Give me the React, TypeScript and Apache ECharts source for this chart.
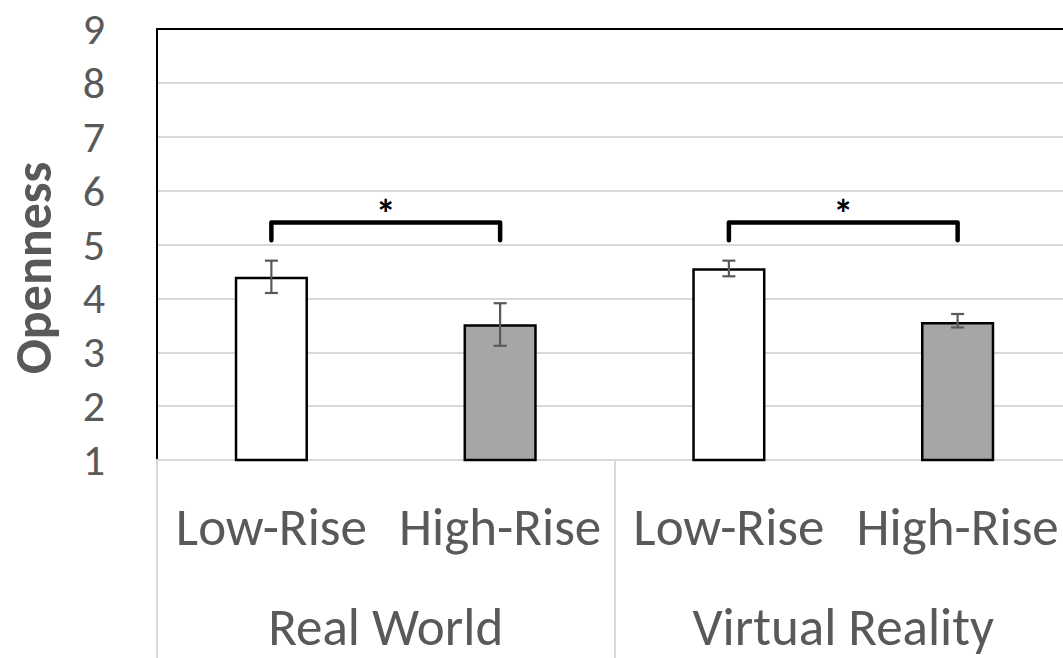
import React, { useEffect, useRef } from "react";
import * as echarts from "echarts";

// Openness ratings by building height, in the real world and in VR
const conditions = ["Low-Rise", "High-Rise", "Low-Rise", "High-Rise"];
const environments = ["Real World", "Virtual Reality"];
const meanOpenness = [4.4, 3.52, 4.56, 3.56];
const errorLow = [4.1, 3.12, 4.41, 3.46];
const errorHigh = [4.7, 3.91, 4.7, 3.71];
const barFills = ["#ffffff", "#a6a6a6", "#ffffff", "#a6a6a6"];
// significance brackets: [left category, right category, leg bottom, bracket top]
const brackets = [
  [0, 1, 5.08, 5.41],
  [2, 3, 5.08, 5.41],
];
const yTicks = { min: 1, max: 9, interval: 1 };

const FONT = "Carlito, Lato, 'Open Sans', sans-serif";
const TEXT = "#595959";
const GRID = "#d9d9d9";

export default function App() {
  const ref = useRef<HTMLDivElement>(null);

  useEffect(() => {
    if (!ref.current) return;
    const chart = echarts.init(ref.current, null, { renderer: "svg" });

    chart.setOption({
      animation: false,
      backgroundColor: "#ffffff",
      grid: { left: 157, top: 29, bottom: 198, right: 0, containLabel: false },
      graphic: [
        {
          type: "text",
          x: 33,
          y: 268,
          rotation: Math.PI / 2,
          style: {
            text: "Openness",
            align: "center",
            verticalAlign: "middle",
            fontFamily: FONT,
            fontWeight: "bold",
            fontSize: 52,
            fill: TEXT,
          },
        },
      ],
      xAxis: [
        {
          type: "category",
          data: conditions,
          position: "bottom",
          axisLine: { show: true, lineStyle: { color: GRID, width: 2 } },
          axisTick: { show: false },
          axisLabel: {
            interval: 0,
            margin: 40,
            fontFamily: FONT,
            fontSize: 53,
            color: TEXT,
          },
          splitLine: { show: false },
        },
        {
          type: "category",
          data: environments,
          position: "bottom",
          axisLine: { show: true, lineStyle: { color: GRID, width: 2 } },
          axisTick: {
            show: true,
            interval: 0,
            length: 200,
            lineStyle: { color: GRID, width: 2 },
          },
          axisLabel: {
            interval: 0,
            margin: 140,
            fontFamily: FONT,
            fontSize: 53,
            color: TEXT,
          },
          splitLine: { show: false },
        },
        {
          type: "category",
          data: conditions,
          position: "top",
          axisLine: { show: true, lineStyle: { color: "#000000", width: 2 } },
          axisTick: { show: false },
          axisLabel: { show: false },
          splitLine: { show: false },
        },
      ],
      yAxis: {
        type: "value",
        min: yTicks.min,
        max: yTicks.max,
        interval: yTicks.interval,
        axisLine: { show: true, lineStyle: { color: "#000000", width: 2 } },
        axisTick: { show: false },
        axisLabel: {
          margin: 52,
          fontFamily: FONT,
          fontSize: 44,
          color: TEXT,
        },
        splitLine: { show: true, lineStyle: { color: GRID, width: 2 } },
      },
      series: [
        {
          type: "bar",
          barWidth: "32%",
          clip: true,
          data: meanOpenness.map((v, i) => ({
            value: v,
            itemStyle: { color: barFills[i], borderColor: "#000000", borderWidth: 2.5 },
          })),
          z: 3,
        },
        {
          type: "custom",
          z: 5,
          data: errorLow.map((lo, i) => [i, lo, errorHigh[i]]),
          encode: { x: 0, y: [1, 2] },
          renderItem: (params: any, api: any) => {
            const x = api.value(0);
            const lo = api.coord([x, api.value(1)]);
            const hi = api.coord([x, api.value(2)]);
            const half = 6.5;
            const style = { stroke: "#595959", lineWidth: 2.2 };
            return {
              type: "group",
              children: [
                { type: "line", shape: { x1: lo[0], y1: lo[1], x2: hi[0], y2: hi[1] }, style },
                { type: "line", shape: { x1: hi[0] - half, y1: hi[1], x2: hi[0] + half, y2: hi[1] }, style },
                { type: "line", shape: { x1: lo[0] - half, y1: lo[1], x2: lo[0] + half, y2: lo[1] }, style },
              ],
            };
          },
        },
        {
          type: "custom",
          z: 6,
          data: brackets,
          encode: { x: [0, 1], y: [2, 3] },
          renderItem: (params: any, api: any) => {
            const a = api.value(0);
            const b = api.value(1);
            const low = api.value(2);
            const top = api.value(3);
            const p1 = api.coord([a, low]);
            const p2 = api.coord([a, top]);
            const p3 = api.coord([b, top]);
            const p4 = api.coord([b, low]);
            return {
              type: "group",
              children: [
                {
                  type: "polyline",
                  shape: { points: [p1, p2, p3, p4] },
                  style: {
                    stroke: "#000000",
                    lineWidth: 4.5,
                    fill: "none",
                    lineJoin: "round",
                    lineCap: "round",
                  },
                },
                {
                  type: "text",
                  x: (p2[0] + p3[0]) / 2,
                  y: p2[1] - 8,
                  style: {
                    text: "*",
                    align: "center",
                    verticalAlign: "middle",
                    fontFamily: FONT,
                    fontWeight: "bold",
                    fontSize: 40,
                    fill: "#000000",
                  },
                },
              ],
            };
          },
        },
      ],
    });

    return () => chart.dispose();
  }, []);

  // the plot runs a few pixels past the right edge of the window
  return (
    <div
      ref={ref}
      style={{ position: "fixed", left: 0, top: 0, width: 1072, height: 658 }}
    />
  );
}
